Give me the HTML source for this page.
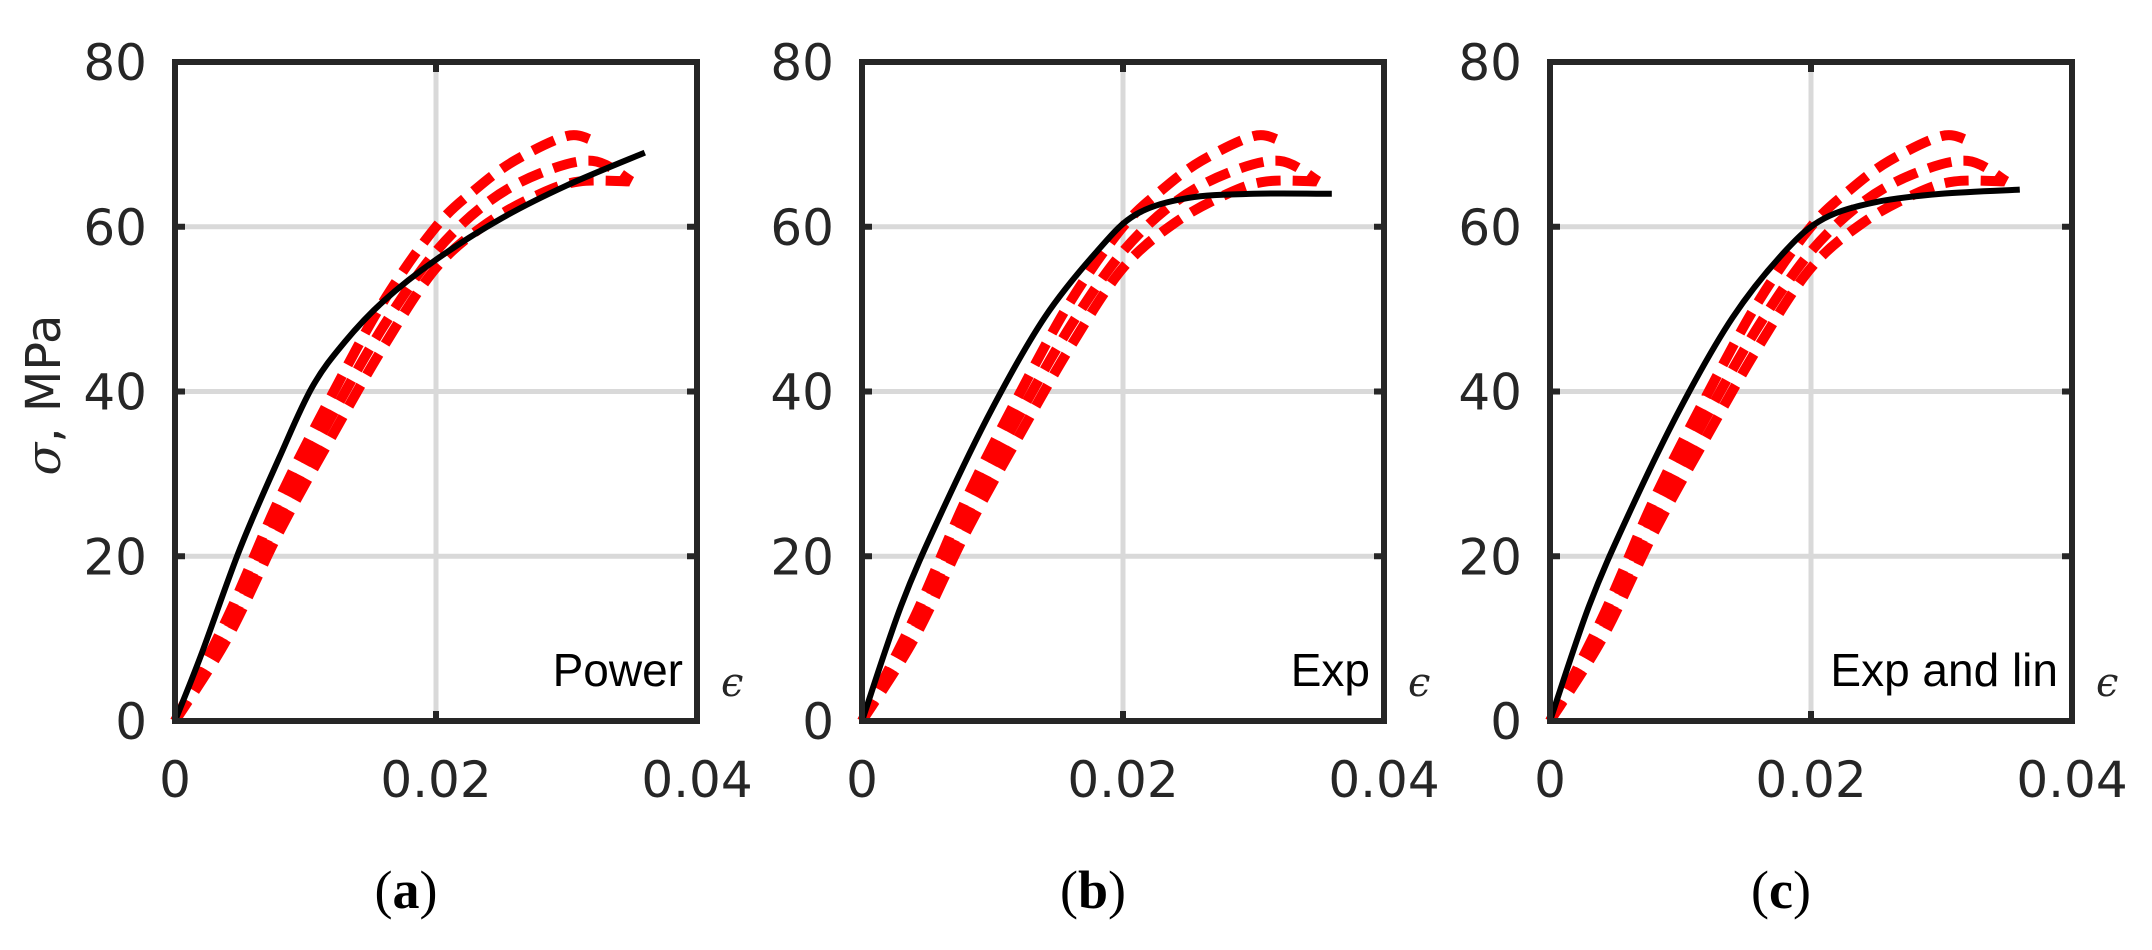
<!DOCTYPE html>
<html><head><meta charset="utf-8"><style>
html,body{margin:0;padding:0;background:#fff;}
svg{display:block;}
text{font-family:"DejaVu Sans","Liberation Sans",sans-serif;fill:#262626;}
.cap{font-family:"Liberation Serif",serif;fill:#000;font-size:54px;}
</style></head><body>
<svg id="s" width="2152" height="950" viewBox="0 0 2152 950" xmlns="http://www.w3.org/2000/svg"></svg>
<script>
const svg=document.getElementById('s');
const T=721,B=62,H=T-B,W=522;
const panels=[{L:175,lab:'Power',cap:'a'},{L:862,lab:'Exp',cap:'b'},{L:1550,lab:'Exp and lin',cap:'c'}];
const blacks=[
[[0,0],[0.002,8],[0.005,21],[0.008,32],[0.0105,40.5],[0.013,46],[0.016,51],[0.02,56],[0.025,61],[0.03,65],[0.036,69]],
[[0,0],[0.003,14],[0.006,25],[0.01,38],[0.014,49],[0.018,57],[0.021,61.5],[0.025,63.5],[0.03,64],[0.036,64]],
[[0,0],[0.003,14],[0.006,25],[0.01,38],[0.014,49],[0.018,57],[0.021,61],[0.025,63],[0.03,64],[0.036,64.5]]];
const reds=[
[[0,0],[0.004,12.5],[0.008,27],[0.012,39.5],[0.016,51],[0.02,60],[0.023,64.5],[0.026,68],[0.03,71],[0.032,70.5]],
[[0,0],[0.004,11],[0.008,25],[0.012,37],[0.016,48],[0.02,57],[0.024,63],[0.028,66.5],[0.032,68],[0.035,65.5]],
[[0,0],[0.004,10],[0.008,23],[0.012,34.5],[0.016,45.5],[0.02,55],[0.024,60.5],[0.028,64],[0.031,65.5],[0.035,65.5]]];
function path(pts,L){
 const p=pts.map(([e,s])=>[L+e/0.04*W,T-s/80*H]);
 let d='M'+p[0][0]+','+p[0][1];
 for(let i=0;i<p.length-1;i++){
  const p0=p[Math.max(i-1,0)],p1=p[i],p2=p[i+1],p3=p[Math.min(i+2,p.length-1)];
  const c1=[p1[0]+(p2[0]-p0[0])/6,p1[1]+(p2[1]-p0[1])/6];
  const c2=[p2[0]-(p3[0]-p1[0])/6,p2[1]-(p3[1]-p1[1])/6];
  d+=` C${c1[0]},${c1[1]} ${c2[0]},${c2[1]} ${p2[0]},${p2[1]}`;
 }
 return d;
}
let h='';
panels.forEach((P,k)=>{
 const L=P.L,R=L+W;
 h+=`<line x1="${L+W/2}" y1="${B}" x2="${L+W/2}" y2="${T}" stroke="#d9d9d9" stroke-width="5"/>`;
 [20,40,60].forEach(v=>{const y=T-v/80*H;h+=`<line x1="${L}" y1="${y}" x2="${R}" y2="${y}" stroke="#d9d9d9" stroke-width="5"/>`;});
 reds.forEach(r=>h+=`<path d="${path(r,L)}" fill="none" stroke="#ff0000" stroke-width="10" stroke-dasharray="24,12"/>`);
 h+=`<path d="${path(blacks[k],L)}" fill="none" stroke="#000" stroke-width="6"/>`;
 h+=`<rect x="${L}" y="${B}" width="${W}" height="${H}" fill="none" stroke="#262626" stroke-width="6"/>`;
 [20,40,60].forEach(v=>{const y=T-v/80*H;h+=`<line x1="${L}" y1="${y}" x2="${L+10}" y2="${y}" stroke="#262626" stroke-width="6"/><line x1="${R-10}" y1="${y}" x2="${R}" y2="${y}" stroke="#262626" stroke-width="6"/>`;});
 h+=`<line x1="${L+W/2}" y1="${B}" x2="${L+W/2}" y2="${B+10}" stroke="#262626" stroke-width="6"/><line x1="${L+W/2}" y1="${T-10}" x2="${L+W/2}" y2="${T}" stroke="#262626" stroke-width="6"/>`;
 [0,20,40,60,80].forEach(v=>{const y=T-v/80*H;h+=`<text x="${L-28}" y="${y+18}" font-size="50" text-anchor="end">${v}</text>`;});
 [['0',0],['0.02',0.5],['0.04',1]].forEach(([t,f])=>{h+=`<text x="${L+f*W}" y="${797}" font-size="50" text-anchor="middle">${t}</text>`;});
 h+=`<text x="${R-14}" y="${686}" font-size="46" text-anchor="end" style="fill:#000;font-family:'Liberation Sans',sans-serif">${P.lab}</text>`;
 h+=`<text x="${R+24}" y="${696}" font-size="40" font-style="italic" style="font-family:'DejaVu Serif',serif">ϵ</text>`;
 h+=`<text class="cap" x="${L+W/2-30}" y="${908}" text-anchor="middle">(<tspan font-weight="bold">${P.cap}</tspan>)</text>`;
});
h+=`<text transform="translate(60,395) rotate(-90)" font-size="48" text-anchor="middle"><tspan font-style="italic" style="font-family:'DejaVu Serif',serif">σ</tspan>, MPa</text>`;
svg.innerHTML=h;
</script>
</body></html>
